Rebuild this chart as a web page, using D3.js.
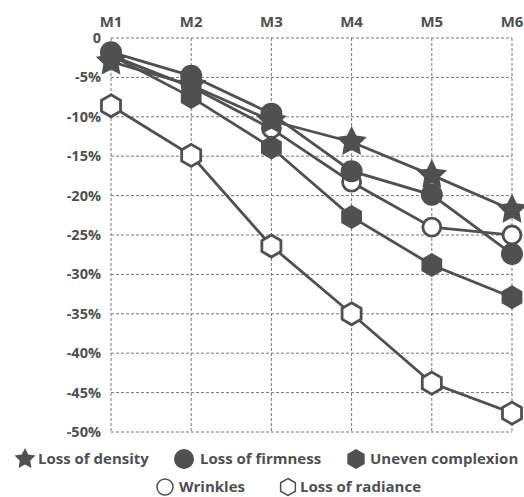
<!DOCTYPE html>
<html><head><meta charset="utf-8">
<script src="https://cdnjs.cloudflare.com/ajax/libs/d3/7.8.5/d3.min.js"></script>
<style>body{margin:0;background:#fff;} svg{display:block;font-family:"Open Sans",sans-serif;font-weight:700;}</style>
</head><body>
<script>
const months = ["M1","M2","M3","M4","M5","M6"];
const yTicks = [0,-5,-10,-15,-20,-25,-30,-35,-40,-45,-50];
const density    = [-3.0, -6.0, -10.5, -13.2, -17.4, -21.8];
const firmness   = [-1.8, -4.8, -9.6, -16.9, -19.9, -27.4];
const complexion = [-2.2, -7.5, -13.9, -22.7, -28.8, -32.9];
const wrinkles   = [-2.2, -6.2, -11.5, -18.3, -24.0, -25.0];
const radiance   = [-8.6, -14.9, -26.4, -35.0, -43.8, -47.6];

const series = [
  {name:"Loss of radiance", values:radiance, shape:"hex", fill:false},
  {name:"Wrinkles", values:wrinkles, shape:"circle", fill:false},
  {name:"Uneven complexion", values:complexion, shape:"hex", fill:true},
  {name:"Loss of firmness", values:firmness, shape:"circle", fill:true},
  {name:"Loss of density", values:density, shape:"star", fill:true}
];
const legendRow1 = ["Loss of density","Loss of firmness","Uneven complexion"];
const legendRow2 = ["Wrinkles","Loss of radiance"];

const W=524,H=497, C="#505050";
const svg=d3.select("body").append("svg").attr("width",W).attr("height",H);
const x=d3.scalePoint().domain(months).range([111,512]);
const y=d3.scaleLinear().domain([0,-50]).range([38,432]);

// grid
const g=svg.append("g");
g.selectAll("line.h").data(yTicks).join("line")
  .attr("x1",111).attr("x2",512).attr("y1",d=>y(d)).attr("y2",d=>y(d))
  .attr("stroke","#777").attr("stroke-width",1).attr("stroke-dasharray","3,2");
g.selectAll("line.v").data(months).join("line")
  .attr("x1",d=>x(d)).attr("x2",d=>x(d)).attr("y1",y(0)).attr("y2",y(-50))
  .attr("stroke","#777").attr("stroke-width",1).attr("stroke-dasharray","3,2");

// axes labels
svg.selectAll("text.m").data(months).join("text")
  .attr("x",d=>x(d)).attr("y",27).attr("text-anchor","middle")
  .attr("font-size",15).attr("fill",C).text(d=>d);
svg.selectAll("text.yt").data(yTicks).join("text")
  .attr("x",101).attr("y",d=>y(d)+5).attr("text-anchor","end")
  .attr("font-size",14.5).attr("fill",C).text(d=>d===0?"0":d+"%");

function shapePath(shape, r){
  if(shape==="circle") return d3.symbol(d3.symbolCircle, Math.PI*r*r)();
  if(shape==="star"){
    const pts=d3.range(10).map(i=>{const a=Math.PI/5*i - Math.PI/2; const rr=i%2?r*0.5:r; return [rr*Math.cos(a), rr*Math.sin(a)];});
    return "M"+pts.map(p=>p.join(",")).join("L")+"Z";
  }
  const pts=d3.range(6).map(i=>{const a=Math.PI/3*i - Math.PI/2; return [r*Math.cos(a), r*Math.sin(a)];});
  return "M"+pts.map(p=>p.join(",")).join("L")+"Z";
}
const sizes={circle:{true:11,false:9},hex:{true:12,false:11},star:{true:16}};

const line=d3.line().x((d,i)=>x(months[i])).y(d=>y(d));
series.forEach(s=>{
  svg.append("path").attr("d",line(s.values)).attr("fill","none")
    .attr("stroke",C).attr("stroke-width",2.8);
});
series.forEach(s=>{
  const r=sizes[s.shape][s.fill];
  svg.selectAll(null).data(s.values).join("path")
    .attr("transform",(d,i)=>`translate(${x(months[i])},${y(d)})`)
    .attr("d",shapePath(s.shape,r))
    .attr("fill",s.fill?C:"#fff").attr("stroke",C).attr("stroke-width",s.fill?0:2.8);
});

// legend
const leg=[
  {name:"Loss of density",shape:"star",fill:true,ix:25,tx:38,y:459,r:11},
  {name:"Loss of firmness",shape:"circle",fill:true,ix:184,tx:200,y:459,r:10},
  {name:"Uneven complexion",shape:"hex",fill:true,ix:356,tx:370,y:459,r:10},
  {name:"Wrinkles",shape:"circle",fill:false,ix:165,tx:179,y:487,r:8},
  {name:"Loss of radiance",shape:"hex",fill:false,ix:288,tx:300,y:487,r:8.5}
];
leg.forEach(l=>{
  svg.append("path").attr("transform",`translate(${l.ix},${l.y})`)
    .attr("d",shapePath(l.shape,l.r))
    .attr("fill",l.fill?C:"#fff").attr("stroke",C).attr("stroke-width",l.fill?0:1.5);
  svg.append("text").attr("x",l.tx).attr("y",l.y+5).attr("font-size",15)
    .attr("fill",C).text(l.name);
});
</script>
</body></html>
